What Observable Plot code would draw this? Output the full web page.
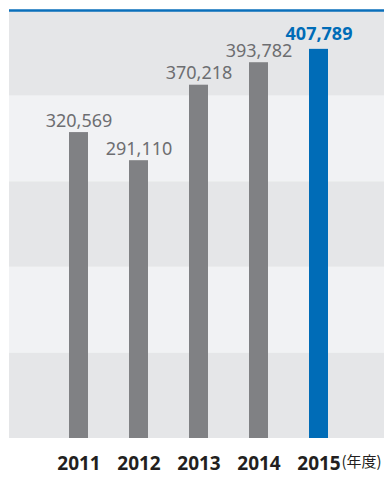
<!DOCTYPE html>
<html>
<head>
<meta charset="utf-8">
<script src="https://cdn.jsdelivr.net/npm/d3@7"></script>
<script src="https://cdn.jsdelivr.net/npm/@observablehq/plot@0.6"></script>
<style>
  html, body { margin: 0; padding: 0; background: #ffffff; }
  #chart svg { display: block; }
</style>
</head>
<body>
<div id="chart"></div>
<script>
const years = ["2011", "2012", "2013", "2014", "2015"];
const values = [320569, 291110, 370218, 393782, 407789];
const highlightYear = "2015";
const unitLabel = "(年度)";
const yMax = 448500;
const bandEdges = [0, 89700, 179400, 269100, 358800, 448500];

const data = years.map((year, i) => ({year, value: values[i]}));
const bands = bandEdges.slice(0, -1).map((lo, i) => ({lo, hi: bandEdges[i + 1], i}));

const BLUE = "#006cb7";
const GRAY = "#808184";
const fmt = d3.format(",");
const font = "'Noto Sans', 'Open Sans', sans-serif";

const chart = Plot.plot({
  width: 384,
  height: 480,
  marginLeft: 9,
  marginRight: 0,
  marginTop: 10,
  marginBottom: 42,
  style: {fontFamily: font, background: "#ffffff", overflow: "visible"},
  x: {type: "band", domain: years, range: [48.5, 348.5], paddingInner: 41 / 60, paddingOuter: 20.5 / 60, round: false, axis: null},
  y: {domain: [0, yMax], axis: null},
  marks: [
    Plot.rect(bands, {y1: "lo", y2: "hi", fill: d => d.i % 2 === 0 ? "#e5e6e8" : "#f1f2f4"}),
    Plot.ruleY([yMax], {stroke: "#0a6fbb", strokeWidth: 2.5}),
    Plot.barY(data, {x: "year", y: "value", fill: d => d.year === highlightYear ? BLUE : GRAY}),
    Plot.text(data.filter(d => d.year !== highlightYear), {
      x: "year", y: "value", text: d => fmt(d.value),
      lineAnchor: "bottom", dy: -6, fill: "#6d6e71", fontSize: 18
    }),
    Plot.text(data.filter(d => d.year === highlightYear), {
      x: "year", y: "value", text: d => fmt(d.value),
      lineAnchor: "bottom", dy: -9, fill: BLUE, fontSize: 18, fontWeight: "bold"
    }),
    Plot.text(years, {
      x: d => d, frameAnchor: "bottom", lineAnchor: "bottom", dy: 31.5,
      text: d => d, fill: "#231f20", fontSize: 19, fontWeight: "bold"
    }),
    Plot.text([unitLabel], {
      x: () => highlightYear, frameAnchor: "bottom", lineAnchor: "bottom",
      dx: 22.5, dy: 28.5, textAnchor: "start", text: d => d,
      fill: "#231f20", fontSize: 15, fontFamily: "'Noto Sans CJK JP', 'Noto Sans', sans-serif"
    })
  ]
});
document.getElementById("chart").appendChild(chart);
</script>
</body>
</html>
